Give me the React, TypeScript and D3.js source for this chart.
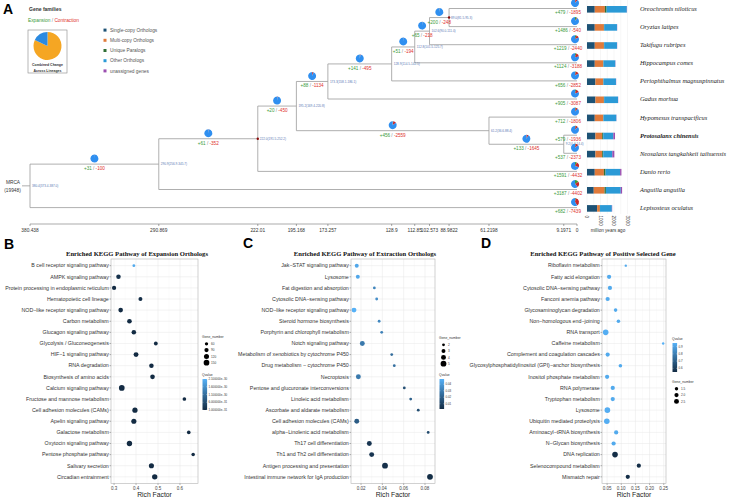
import * as d3 from "d3";

// ---------- Panel A data ----------
const TOTAL_FAMILIES = 19948;

const species = [
  "Oreochromis niloticus",
  "Oryzias latipes",
  "Takifugu rubripes",
  "Hippocampus comes",
  "Periophthalmus magnuspinnatus",
  "Gadus morhua",
  "Hypomesus transpacificus",
  "Protosalanx chinensis",
  "Neosalanx tangkahkeii taihuensis",
  "Danio rerio",
  "Anguilla anguilla",
  "Lepisosteus oculatus",
];
const focalSpecies = "Protosalanx chinensis";
const tipGain = [479, 1486, 1219, 1124, 656, 905, 712, 579, 537, 1591, 3187, 682];
const tipLoss = [1895, 540, 2440, 3188, 2852, 3087, 1806, 1936, 2373, 4432, 4402, 7439];

// internal nodes n0..n10, children ids (n = node, t = tip index)
const nodeKids = [
  ["n1", "t11"],
  ["n2", "t10"],
  ["n3", "t9"],
  ["n4", "n9"],
  ["n5", "t5"],
  ["n6", "t4"],
  ["n7", "t3"],
  ["n8", "t2"],
  ["t0", "t1"],
  ["t6", "n10"],
  ["t7", "t8"],
];
const nodeAge = [380.438, 290.869, 222.01, 195.168, 173.257, 128.9, 112.85, 102.573, 88.9822, 61.2198, 9.1971];
const nodeCI = [
  "380.4(373.4-387.0)",
  "290.9(256.9-345.7)",
  "222.0(191.5-252.2)",
  "195.2(169.4-220.8)",
  "173.3(158.1-186.1)",
  "128.9(114.5-142.5)",
  "112.8(101.5-125.7)",
  "102.6(90.0-111.0)",
  "89.0(81.5-95.3)",
  "61.2(36.6-88.4)",
  "9.2(4.4-14.4)",
];
const nodeGain = [0, 31, 61, 20, 88, 141, 51, 65, 200, 456, 133];
const nodeLoss = [0, 100, 352, 450, 1134, 495, 194, 218, 248, 2559, 1645];
const calibratedNodes = [2, 8];
const timeTicks = [380.438, 290.869, 222.01, 195.168, 173.257, 128.9, 112.85, 102.573, 88.9822, 61.2198, 9.1971, 0];

// gene family composition bars
const orthoGroups = ["Single-copy Orthologs", "Multi-copy Orthologs", "Unique Paralogs", "Other Orthologs", "unassigned genes"];
const orthoColors = ["#1d5275", "#e07a3a", "#2f6e35", "#2b9ad6", "#9b4fb0"];
const singleCopy = [575, 575, 575, 575, 625, 625, 575, 625, 625, 575, 500, 750];
const multiCopy = [750, 675, 675, 625, 575, 625, 625, 500, 500, 675, 800, 200];
const uniqueParalogs = [125, 20, 20, 20, 20, 20, 20, 75, 75, 125, 100, 15];
const otherOrthologs = [1500, 950, 950, 875, 925, 1025, 950, 750, 675, 1075, 1100, 875];
const unassigned = [15, 15, 15, 15, 15, 15, 15, 125, 150, 100, 100, 25];
const barTicks = [0, 1000, 2000, 3000];
const combinedChange = [0.82, 0.18];

// ---------- Panel B data ----------
const bTerms = [
  "B cell receptor signaling pathway",
  "AMPK signaling pathway",
  "Protein processing in endoplasmic reticulum",
  "Hematopoietic cell lineage",
  "NOD\u2212like receptor signaling pathway",
  "Carbon metabolism",
  "Glucagon signaling pathway",
  "Glycolysis / Gluconeogenesis",
  "HIF\u22121 signaling pathway",
  "RNA degradation",
  "Biosynthesis of amino acids",
  "Calcium signaling pathway",
  "Fructose and mannose metabolism",
  "Cell adhesion molecules (CAMs)",
  "Apelin signaling pathway",
  "Galactose metabolism",
  "Oxytocin signaling pathway",
  "Pentose phosphate pathway",
  "Salivary secretion",
  "Circadian entrainment",
];
const bRich = [0.39, 0.32, 0.3, 0.42, 0.33, 0.37, 0.39, 0.49, 0.4, 0.47, 0.475, 0.335, 0.62, 0.395, 0.39, 0.64, 0.37, 0.66, 0.47, 0.485];
const bGenes = [45, 100, 90, 80, 105, 105, 100, 75, 115, 100, 105, 150, 70, 130, 125, 70, 135, 65, 125, 135];
const bQvalue = [2.0e-30, 2e-31, 1e-31, 1.5e-31, 1e-31, 1e-31, 1e-31, 1e-31, 1e-31, 1e-31, 1e-31, 1e-31, 1e-31, 1e-31, 1e-31, 1e-31, 1e-31, 1e-31, 1e-31, 1e-31];
const bGeneBreaks = [60, 90, 120, 150];
const bQBreaks = [2.1e-30, 1.6e-30, 1.1e-30, 6e-31, 1e-31];
const bQLabels = ["2.100000e\u221230", "1.600000e\u221230", "1.100000e\u221230", "6.000000e\u221231", "1.000000e\u221231"];

// ---------- Panel C data ----------
const cTerms = [
  "Jak\u2212STAT signaling pathway",
  "Lysosome",
  "Fat digestion and absorption",
  "Cytosolic DNA\u2212sensing pathway",
  "NOD\u2212like receptor signaling pathway",
  "Steroid hormone biosynthesis",
  "Porphyrin and chlorophyll metabolism",
  "Notch signaling pathway",
  "Metabolism of xenobiotics by cytochrome P450",
  "Drug metabolism \u2212 cytochrome P450",
  "Necroptosis",
  "Pentose and glucuronate interconversions",
  "Linoleic acid metabolism",
  "Ascorbate and aldarate metabolism",
  "Cell adhesion molecules (CAMs)",
  "alpha\u2212Linolenic acid metabolism",
  "Th17 cell differentiation",
  "Th1 and Th2 cell differentiation",
  "Antigen processing and presentation",
  "Intestinal immune network for IgA production",
];
const cRich = [0.016, 0.017, 0.0325, 0.0347, 0.0134, 0.037, 0.0394, 0.0212, 0.0488, 0.0512, 0.0175, 0.0606, 0.0666, 0.0737, 0.016, 0.083, 0.0278, 0.03, 0.0425, 0.0847];
const cGenes = [3, 3, 2, 2, 4, 2, 2, 4, 2, 2, 4, 2, 2, 2, 4, 2, 4, 4, 5, 5];
const cQvalue = [0.045, 0.045, 0.034, 0.037, 0.048, 0.035, 0.033, 0.03, 0.026, 0.027, 0.03, 0.016, 0.022, 0.015, 0.02, 0.014, 0.006, 0.006, 0.004, 0.003];
const cGeneBreaks = [2, 3, 4, 5];
const cQBreaks = [0.04, 0.03, 0.02, 0.01];

// ---------- Panel D data ----------
const dTerms = [
  "Riboflavin metabolism",
  "Fatty acid elongation",
  "Cytosolic DNA\u2212sensing pathway",
  "Fanconi anemia pathway",
  "Glycosaminoglycan degradation",
  "Non\u2212homologous end\u2212joining",
  "RNA transport",
  "Caffeine metabolism",
  "Complement and coagulation cascades",
  "Glycosylphosphatidylinositol (GPI)\u2212anchor biosynthesis",
  "Inositol phosphate metabolism",
  "RNA polymerase",
  "Tryptophan metabolism",
  "Lysosome",
  "Ubiquitin mediated proteolysis",
  "Aminoacyl\u2212tRNA biosynthesis",
  "N\u2212Glycan biosynthesis",
  "DNA replication",
  "Selenocompound metabolism",
  "Mismatch repair",
];
const dRich = [0.116, 0.057, 0.06, 0.052, 0.08, 0.09, 0.045, 0.248, 0.052, 0.097, 0.05, 0.07, 0.07, 0.051, 0.049, 0.082, 0.073, 0.078, 0.162, 0.123];
const dGenes = [1, 2, 2, 2, 1.6, 1.6, 3, 1, 2, 1.6, 2, 2, 2, 3, 3, 2, 2, 3, 2, 2];
const dQvalue = [0.93, 0.93, 0.93, 0.93, 0.93, 0.93, 0.94, 0.95, 0.93, 0.93, 0.93, 0.93, 0.93, 0.94, 0.94, 0.93, 0.93, 0.56, 0.56, 0.56];
const dGeneBreaks = [1.5, 2.0, 2.5];
const dQBreaks = [0.9, 0.8, 0.7, 0.6];

const SANS = "'Liberation Sans', Arial, sans-serif";
const SERIF = "'Liberation Serif', 'Times New Roman', serif";
const GAIN = "#3a9a3a";
const LOSS = "#e0302c";
const PIE_BLUE = "#2f8ff0";

function GainLoss({ x, y, gain, loss, size }: { x: number; y: number; gain: number; loss: number; size: number }) {
  return (
    <text x={x} y={y} fontSize={size} textAnchor="middle" fontFamily={SANS}>
      <tspan fill={GAIN}>+{gain}</tspan>
      <tspan fill="#888"> / </tspan>
      <tspan fill={LOSS}>-{loss}</tspan>
    </text>
  );
}

function ChangePie({ cx, cy, gain, loss }: { cx: number; cy: number; gain: number; loss: number }) {
  const pie = d3.pie<number>().sort(null)([gain, loss, TOTAL_FAMILIES - gain - loss]);
  const arc = d3.arc<d3.PieArcDatum<number>>().innerRadius(0).outerRadius(4);
  const cols = [GAIN, "#c8282a", PIE_BLUE];
  return (
    <g transform={`translate(${cx},${cy})`}>
      {pie.map((p, i) => (
        <path key={i} d={arc(p) || ""} fill={cols[i]} />
      ))}
    </g>
  );
}

function TreePanel() {
  const tx = d3.scaleLinear().domain([380.438, 0]).range([30, 577]);
  const ty = d3.scaleLinear().domain([0, species.length - 1]).range([8.5, 207.6]);
  const pos: Record<string, { x: number; y: number }> = {};
  const parent: Record<string, string> = {};
  const place = (id: string): { x: number; y: number } => {
    const k = +id.slice(1);
    if (id[0] === "t") return (pos[id] = { x: tx(0), y: ty(k) });
    const kids = nodeKids[k].map((c) => {
      parent[c] = id;
      return place(c);
    });
    return (pos[id] = { x: tx(nodeAge[k]), y: d3.mean(kids, (d) => d.y)! });
  };
  place("n0");

  const bx = d3.scaleLinear().domain([0, 3000]).range([587, 627.5]);
  const comp = [singleCopy, multiCopy, uniqueParalogs, otherOrthologs, unassigned];

  const legendPie = d3.pie<number>().sort(null)(combinedChange);
  const legendArc = d3.arc<d3.PieArcDatum<number>>().innerRadius(0).outerRadius(14);

  return (
    <g>
      <text x={3} y={14} fontSize={14} fontWeight="bold" fontFamily={SANS}>A</text>
      <text x={29} y={11} fontSize={5} fontWeight="bold" fill="#333" fontFamily={SANS}>Gene families</text>
      <text x={28} y={22} fontSize={4.8} fontFamily={SANS}>
        <tspan fill={GAIN}>Expansion</tspan>
        <tspan fill="#888"> / </tspan>
        <tspan fill={LOSS}>Contraction</tspan>
      </text>
      <rect x={28} y={30} width={39} height={43} fill="#fff" stroke="#888" strokeWidth={0.6} />
      <g transform="translate(47.5,46)">
        {legendPie.map((p, i) => (
          <path key={i} d={legendArc(p) || ""} fill={i === 0 ? "#f5a623" : "#2b8ae0"} />
        ))}
      </g>
      <text x={47.5} y={66} fontSize={3.5} fontWeight="bold" textAnchor="middle" fill="#333" fontFamily={SANS}>Combined Change</text>
      <text x={47.5} y={71.5} fontSize={3.5} fontWeight="bold" textAnchor="middle" fill="#333" fontFamily={SANS}>Across Lineages</text>
      {orthoGroups.map((g, i) => (
        <g key={g}>
          <rect x={103.5} y={28.6 + i * 10.2} width={3} height={3} fill={orthoColors[i]} />
          <text x={110} y={31.7 + i * 10.2} fontSize={4.8} fill="#555" fontFamily={SANS}>{g}</text>
        </g>
      ))}

      {/* bar gridlines */}
      {d3.range(0, 3001, 500).map((v) => (
        <line key={v} x1={bx(v)} x2={bx(v)} y1={0} y2={214} stroke="#e8e8e8" strokeWidth={0.4} />
      ))}

      {/* branches */}
      {nodeKids.map((kids, k) => {
        const p = pos["n" + k];
        const ys = kids.map((c) => pos[c].y);
        return (
          <g key={k}>
            <line x1={p.x} x2={p.x} y1={d3.min(ys)!} y2={d3.max(ys)!} stroke="#9a9a9a" strokeWidth={0.8} />
            {kids.map((c) => (
              <line key={c} x1={p.x} x2={pos[c].x} y1={pos[c].y} y2={pos[c].y} stroke="#9a9a9a" strokeWidth={0.8} />
            ))}
          </g>
        );
      })}
      <line x1={22} x2={30} y1={pos.n0.y} y2={pos.n0.y} stroke="#9a9a9a" strokeWidth={0.8} />
      <text x={13} y={pos.n0.y - 1.5} fontSize={4.8} textAnchor="middle" fill="#333" fontFamily={SANS}>MRCA</text>
      <text x={12.5} y={pos.n0.y + 6} fontSize={4.8} textAnchor="middle" fill="#333" fontFamily={SANS}>({TOTAL_FAMILIES})</text>

      {/* node ages */}
      {nodeCI.map((ci, k) => {
        const p = pos["n" + k];
        return (
          <g key={k}>
            {calibratedNodes.includes(k) && <circle cx={p.x} cy={p.y} r={1.2} fill="#8b0a0a" />}
            <text x={p.x + 2} y={p.y + 1.1} fontSize={3.1} fill="#5a78b4" fontFamily={SANS}>{ci}</text>
          </g>
        );
      })}

      {/* internal branch changes */}
      {nodeGain.map((g, k) => {
        if (k === 0) return null;
        const p = pos["n" + k];
        const pp = pos[parent["n" + k]];
        const mx = (p.x + pp.x) / 2;
        return (
          <g key={k}>
            <ChangePie cx={mx} cy={p.y - 5.5} gain={g} loss={nodeLoss[k]} />
            <GainLoss x={mx} y={p.y + 6} gain={g} loss={nodeLoss[k]} size={4.6} />
          </g>
        );
      })}

      {/* tips */}
      {species.map((s, i) => {
        const y = ty(i);
        let acc = 0;
        return (
          <g key={s}>
            <ChangePie cx={575} cy={y - 5.5} gain={tipGain[i]} loss={tipLoss[i]} />
            <GainLoss x={568} y={y + 5.6} gain={tipGain[i]} loss={tipLoss[i]} size={4.6} />
            {comp.map((arr, j) => {
              const x0 = bx(acc);
              acc += arr[i];
              return <rect key={j} x={x0} y={y - 2.5} width={bx(acc) - x0} height={6.6} fill={orthoColors[j]} />;
            })}
            <text
              x={640}
              y={y + 2.4}
              fontSize={6.4}
              fontStyle="italic"
              fontWeight={s === focalSpecies ? "bold" : "normal"}
              fill="#222"
              fontFamily={SERIF}
            >
              {s}
            </text>
          </g>
        );
      })}

      {/* time axis */}
      <line x1={tx(380.438)} x2={tx(0)} y1={224} y2={224} stroke="#555" strokeWidth={0.5} />
      {timeTicks.map((t) => (
        <g key={t}>
          <line x1={tx(t)} x2={tx(t)} y1={224} y2={226} stroke="#555" strokeWidth={0.5} />
          <text x={tx(t)} y={232} fontSize={4.8} textAnchor="middle" fill="#333" fontFamily={SANS}>{String(t)}</text>
        </g>
      ))}
      {barTicks.map((v) => (
        <text key={v} transform={`translate(${bx(v) - 1.6},215.5) rotate(90)`} fontSize={4.6} fill="#333" fontFamily={SANS}>
          {v}
        </text>
      ))}
      <text x={608} y={232} fontSize={4.6} textAnchor="middle" fill="#333" fontFamily={SANS}>million years ago</text>
    </g>
  );
}

interface KeggProps {
  id: string;
  terms: string[];
  rich: number[];
  genes: number[];
  qv: number[];
  x0: number;
  x1: number;
  xDomain: [number, number];
  xTicks: number[];
  fmt: (v: number) => string;
  title: string;
  titleX: number;
  qDomain: [number, number];
  qBreaks: number[];
  qLabels: string[];
  gDomain: [number, number];
  gBreaks: number[];
  gLabels: string[];
  geneAt: [number, number];
  qAt: [number, number];
  qHeight: number;
  rRange: [number, number];
}

function KeggPanel(p: KeggProps) {
  const y0 = 259;
  const y1 = 483.5;
  const x = d3.scaleLinear().domain(p.xDomain).range([p.x0, p.x1]);
  const y = d3.scalePoint<string>().domain(p.terms).range([y0, y1]).padding(0.6);
  const r = d3.scaleSqrt().domain(p.gDomain).range(p.rRange);
  const col = d3.scaleLinear<string>().domain(p.qDomain).range(["#132B43", "#56B1F7"]).interpolate(d3.interpolateLab).clamp(true);
  const step = p.xTicks[1] - p.xTicks[0];
  const minor = d3.range(p.xTicks[0] - step / 2, p.xDomain[1], step).filter((v) => v > p.xDomain[0]);
  const qs = d3.scaleLinear().domain(p.qDomain).range([p.qAt[1] + 3 + p.qHeight, p.qAt[1] + 3]);
  const order = d3.range(p.terms.length);
  return (
    <g fontFamily={SANS}>
      <defs>
        <linearGradient id={p.id} x1="0" y1="1" x2="0" y2="0">
          <stop offset="0" stopColor="#132B43" />
          <stop offset="1" stopColor="#56B1F7" />
        </linearGradient>
      </defs>
      <text x={p.titleX} y={256} fontSize={6.6} fontWeight="bold" textAnchor="middle" fontFamily={SERIF} fill="#111">
        {p.title}
      </text>
      <rect x={p.x0} y={y0} width={p.x1 - p.x0} height={y1 - y0} fill="#fff" />
      {minor.map((v) => (
        <line key={"m" + v} x1={x(v)} x2={x(v)} y1={y0} y2={y1} stroke="#f2f2f2" strokeWidth={0.3} />
      ))}
      {p.xTicks.map((v) => (
        <line key={"M" + v} x1={x(v)} x2={x(v)} y1={y0} y2={y1} stroke="#e6e6e6" strokeWidth={0.5} />
      ))}
      {p.terms.map((t) => (
        <line key={t} x1={p.x0} x2={p.x1} y1={y(t)} y2={y(t)} stroke="#e6e6e6" strokeWidth={0.5} />
      ))}
      {order.map((i) => (
        <circle key={i} cx={x(p.rich[i])} cy={y(p.terms[i])!} r={r(p.genes[i])} fill={col(p.qv[i])} />
      ))}
      <rect x={p.x0} y={y0} width={p.x1 - p.x0} height={y1 - y0} fill="none" stroke="#b3b3b3" strokeWidth={0.6} />
      {p.terms.map((t) => (
        <g key={t}>
          <line x1={p.x0 - 1.5} x2={p.x0} y1={y(t)} y2={y(t)} stroke="#444" strokeWidth={0.4} />
          <text x={p.x0 - 2.2} y={y(t)! + 1.8} fontSize={5.3} textAnchor="end" fill="#333">{t}</text>
        </g>
      ))}
      {p.xTicks.map((v) => (
        <g key={v}>
          <line x1={x(v)} x2={x(v)} y1={y1} y2={y1 + 1.5} stroke="#444" strokeWidth={0.4} />
          <text x={x(v)} y={489.5} fontSize={4.5} textAnchor="middle" fill="#444">{p.fmt(v)}</text>
        </g>
      ))}
      <text x={(p.x0 + p.x1) / 2} y={497} fontSize={6.8} textAnchor="middle" fill="#222">Rich Factor</text>

      {/* size legend */}
      <text x={p.geneAt[0]} y={p.geneAt[1]} fontSize={3.4} fill="#333">Gene_number</text>
      {p.gBreaks.map((b, i) => (
        <g key={b}>
          <circle cx={p.geneAt[0] + 4.5} cy={p.geneAt[1] + 5.8 + i * 6.3} r={r(b)} fill="#000" />
          <text x={p.geneAt[0] + 9} y={p.geneAt[1] + 7 + i * 6.3} fontSize={3.1} fill="#333">{p.gLabels[i]}</text>
        </g>
      ))}

      {/* colour legend */}
      <text x={p.qAt[0]} y={p.qAt[1]} fontSize={3.4} fill="#333">Qvalue</text>
      <rect x={p.qAt[0] + 0.5} y={p.qAt[1] + 3} width={4.6} height={p.qHeight} fill={`url(#${p.id})`} />
      {p.qBreaks.map((b, i) => (
        <g key={b}>
          <line x1={p.qAt[0] + 0.5} x2={p.qAt[0] + 1.5} y1={qs(b)} y2={qs(b)} stroke="#fff" strokeWidth={0.3} />
          <line x1={p.qAt[0] + 4.1} x2={p.qAt[0] + 5.1} y1={qs(b)} y2={qs(b)} stroke="#fff" strokeWidth={0.3} />
          <text x={p.qAt[0] + 6.6} y={qs(b) + 1} fontSize={2.9} fill="#333">{p.qLabels[i]}</text>
        </g>
      ))}
    </g>
  );
}

export default function App() {
  return (
    <svg width={730} height={499} style={{ position: "absolute", left: 0, top: 0, background: "#fff" }}>
      <rect width={730} height={499} fill="#fff" />
      <TreePanel />
      <text x={4} y={249} fontSize={14} fontWeight="bold" fontFamily={SANS}>B</text>
      <text x={243} y={248} fontSize={14} fontWeight="bold" fontFamily={SANS}>C</text>
      <text x={481} y={248} fontSize={14} fontWeight="bold" fontFamily={SANS}>D</text>
      <KeggPanel
        id="gradB"
        terms={bTerms}
        rich={bRich}
        genes={bGenes}
        qv={bQvalue}
        x0={111}
        x1={198}
        xDomain={[0.286, 0.682]}
        xTicks={[0.3, 0.4, 0.5, 0.6]}
        fmt={(v) => d3.format(".1f")(v)}
        title="Enriched KEGG Pathway of Expansion Orthologs"
        titleX={137}
        qDomain={[1e-31, 2.1e-30]}
        qBreaks={bQBreaks}
        qLabels={bQLabels}
        gDomain={[40, 155]}
        gBreaks={bGeneBreaks}
        gLabels={bGeneBreaks.map(String)}
        geneAt={[202, 338]}
        qAt={[202, 376]}
        qHeight={31}
        rRange={[1.3, 2.9]}
      />
      <KeggPanel
        id="gradC"
        terms={cTerms}
        rich={cRich}
        genes={cGenes}
        qv={cQvalue}
        x0={351}
        x1={435}
        xDomain={[0.0106, 0.0894]}
        xTicks={[0.02, 0.04, 0.06, 0.08]}
        fmt={(v) => d3.format(".2f")(v)}
        title="Enriched KEGG Pathway of Extraction  Orthologs"
        titleX={365}
        qDomain={[0.002, 0.048]}
        qBreaks={cQBreaks}
        qLabels={cQBreaks.map((v) => d3.format(".2f")(v))}
        gDomain={[2, 5]}
        gBreaks={cGeneBreaks}
        gLabels={cGeneBreaks.map(String)}
        geneAt={[439, 339]}
        qAt={[439, 376]}
        qHeight={30}
        rRange={[1.4, 2.9]}
      />
      <KeggPanel
        id="gradD"
        terms={dTerms}
        rich={dRich}
        genes={dGenes}
        qv={dQvalue}
        x0={602}
        x1={666}
        xDomain={[0.032, 0.258]}
        xTicks={[0.05, 0.1, 0.15, 0.2, 0.25]}
        fmt={(v) => d3.format(".2f")(v)}
        title="Enriched KEGG Pathway of Positive Selected Gene"
        titleX={603}
        qDomain={[0.55, 0.95]}
        qBreaks={dQBreaks}
        qLabels={dQBreaks.map((v) => d3.format(".1f")(v))}
        gDomain={[1, 3]}
        gBreaks={dGeneBreaks}
        gLabels={dGeneBreaks.map((v) => d3.format(".1f")(v))}
        geneAt={[672, 383]}
        qAt={[672, 340]}
        qHeight={29}
        rRange={[1.2, 2.8]}
      />
    </svg>
  );
}
